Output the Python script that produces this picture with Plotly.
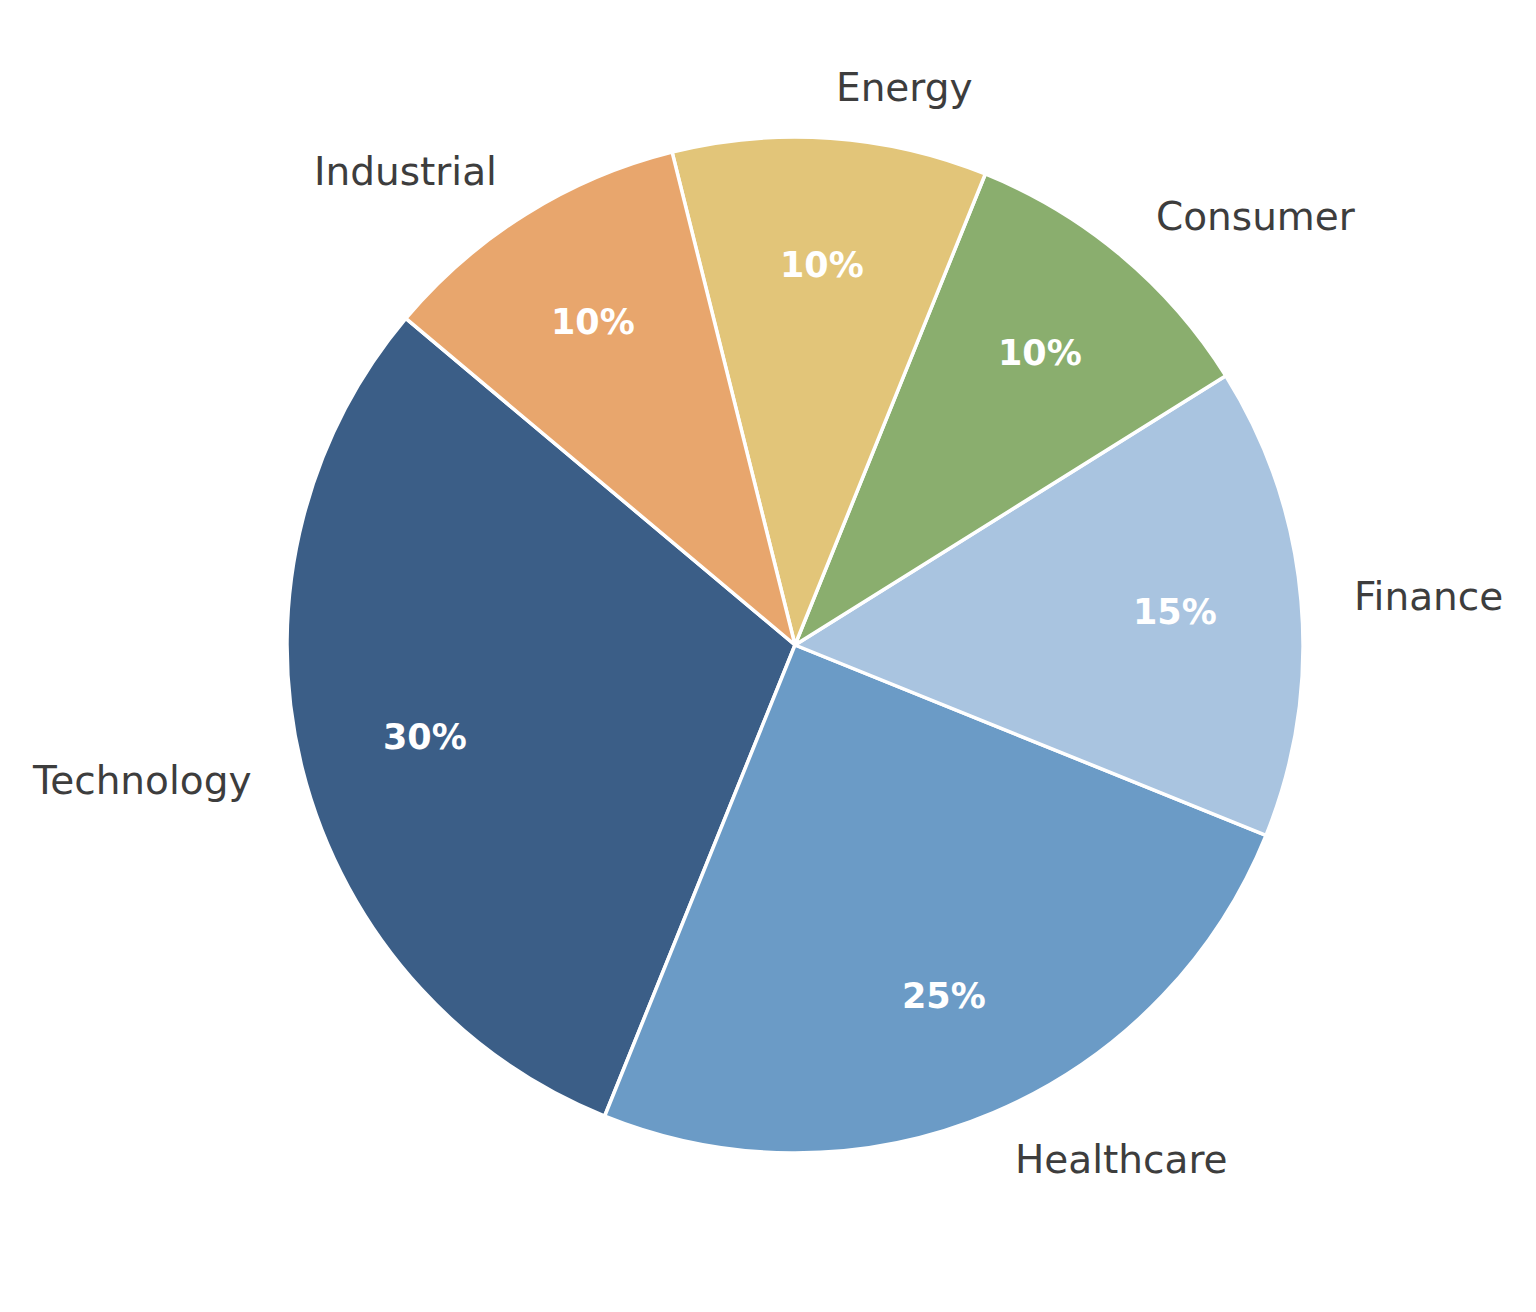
import math
import plotly.graph_objects as go

# sector weights
sectors = ['Technology', 'Healthcare', 'Finance', 'Consumer', 'Energy', 'Industrial']
shares = [30, 25, 15, 10, 10, 10]
colors = ['#3b5e87', '#6b9bc6', '#a9c4e0', '#8aae6e', '#e2c579', '#e8a66d']

W, H = 1536, 1312
cx, cy, R = 787, 637, 508      # pie centre / radius in pixels (page has 8px body margin)
start = 140                    # start angle, degrees ccw from 3 o'clock

total = sum(shares)
# plotly anchors the end of the first slice at `rotation` when going ccw
first_end = start + shares[0] / total * 360

fig = go.Figure(go.Pie(
    labels=sectors,
    values=shares,
    sort=False,
    direction='counterclockwise',
    rotation=90 - first_end,
    marker=dict(colors=colors, line=dict(color='white', width=3.5)),
    textinfo='none',
    hoverinfo='label+percent',
    showlegend=False,
    domain=dict(x=[(cx - R) / W, (cx + R) / W],
                y=[1 - (cy + R) / H, 1 - (cy - R) / H]),
))

# labels outside (1.1 R) and percentages inside (0.75 R)
acc = 0
annotations = []
for name, v in zip(sectors, shares):
    mid = math.radians(start + (acc + v / 2) / total * 360)
    acc += v
    c, s = math.cos(mid), math.sin(mid)
    lx, ly = cx + 1.1 * R * c, cy - 1.1 * R * s
    annotations.append(dict(
        x=lx / W, y=1 - ly / H, xref='paper', yref='paper',
        text=name, showarrow=False,
        xanchor='left' if c > 0 else 'right', yanchor='middle',
        font=dict(family='DejaVu Sans', size=39, color='#3d3d3d'),
    ))
    px_, py_ = cx + 0.75 * R * c, cy - 0.75 * R * s
    annotations.append(dict(
        x=px_ / W, y=1 - py_ / H, xref='paper', yref='paper',
        text='<b>%d%%</b>' % round(v / total * 100), showarrow=False,
        xanchor='center', yanchor='middle',
        font=dict(family='DejaVu Sans', size=35, color='white'),
    ))

fig.update_layout(
    width=W, height=H,
    margin=dict(l=0, r=0, t=0, b=0),
    paper_bgcolor='white',
    annotations=annotations,
)

fig.write_html("out.html")
